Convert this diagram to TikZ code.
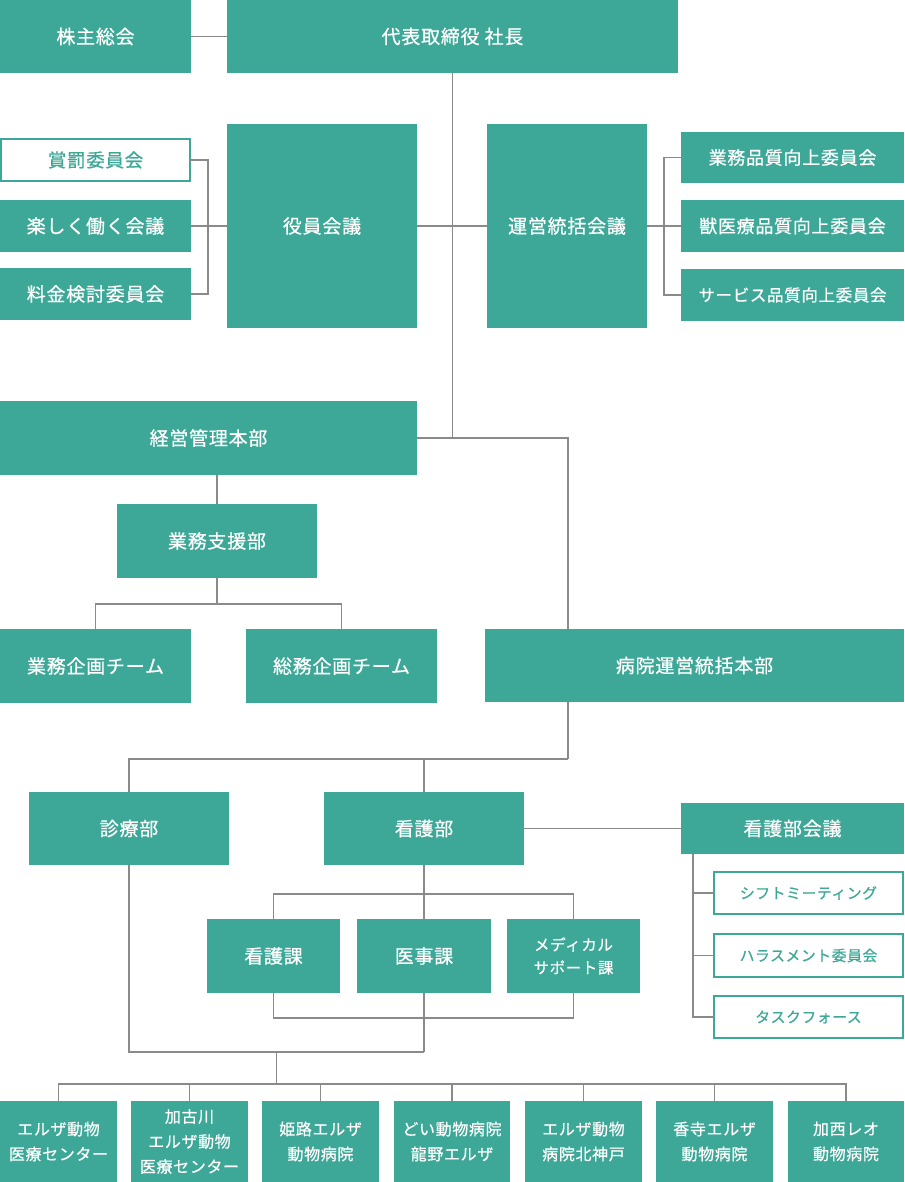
\documentclass[tikz,border=0pt]{standalone}
\usepackage{fontspec}
\usetikzlibrary{calc}
\setmainfont{Noto Sans CJK JP}[LetterSpace=4,FakeBold=0.6]
\definecolor{teal1}{HTML}{3DA897}
\definecolor{ln}{HTML}{8A8A8A}
\tikzset{
  box/.style={fill=teal1,text=white,inner sep=0pt,outer sep=0pt,anchor=north west,align=center,font=\fontsize{19}{24}\selectfont},
  obox/.style={fill=white,draw=teal1,line width=2pt,text=teal1,inner sep=0pt,outer sep=0pt,anchor=north west,align=center},
  con/.style={draw=ln,line width=1.2pt},
}
\newcommand{\bx}[7][box]{\node[#1,minimum width=#4pt-#2pt,minimum height=#5pt-#3pt] (#6) at (#2,#3) {#7};}
\begin{document}
\begin{tikzpicture}[x=1pt,y=-1pt]
\useasboundingbox (0,0) rectangle (904,1182);
\bx{0}{0}{191}{73}{kabu}{株主総会}
\bx{227}{0}{678}{73}{ceo}{代表取締役 社長}
\bx[obox,font=\fontsize{18.5}{22}\selectfont]{1}{139}{190}{181}{shobatsu}{賞罰委員会}
\bx{0}{200}{191}{252}{tanoshiku}{楽しく働く会議}
\bx{0}{268}{191}{320}{ryokin}{料金検討委員会}
\bx{227}{124}{417}{328}{yakuin}{役員会議}
\bx{487}{124}{647}{328}{unei}{運営統括会議}
\bx[box,font=\fontsize{18}{22}\selectfont]{681}{132}{904}{183}{gq}{業務品質向上委員会}
\bx[box,font=\fontsize{18}{22}\selectfont]{681}{200}{904}{252}{jq}{獣医療品質向上委員会}
\bx[box,font=\fontsize{16.5}{22}\selectfont]{681}{269}{904}{321}{sq}{サービス品質向上委員会}
\bx{0}{401}{417}{475}{keiei}{経営管理本部}
\bx{117}{504}{317}{578}{shien}{業務支援部}
\bx{0}{629}{191}{703}{kikaku}{業務企画チーム}
\bx{246}{629}{437}{703}{somu}{総務企画チーム}
\bx{485}{629}{904}{702}{byoin}{病院運営統括本部}
\bx{29}{792}{229}{865}{shinryo}{診療部}
\bx{324}{792}{524}{865}{kango}{看護部}
\bx{681}{803}{904}{854}{kk}{看護部会議}
\bx[obox,font=\fontsize{14.8}{20}\selectfont]{714}{872}{903}{914}{shift}{シフトミーティング}
\bx[obox,font=\fontsize{14.8}{20}\selectfont]{714}{934}{903}{977}{harass}{ハラスメント委員会}
\bx[obox,font=\fontsize{14.8}{20}\selectfont]{714}{996}{903}{1038}{task}{タスクフォース}
\bx{207}{919}{340}{993}{kangoka}{看護課}
\bx{357}{919}{491}{993}{iji}{医事課}
\bx[box,font=\fontsize{15.5}{23}\selectfont]{507}{919}{640}{993}{medical}{メディカル\\サポート課}
\bx[box,font=\fontsize{16}{25}\selectfont]{0}{1101}{117}{1182}{h1}{エルザ動物\\医療センター}
\bx[box,font=\fontsize{16}{25}\selectfont]{131}{1101}{248}{1182}{h2}{加古川\\エルザ動物\\医療センター}
\bx[box,font=\fontsize{16}{25}\selectfont]{262}{1101}{379}{1182}{h3}{姫路エルザ\\動物病院}
\bx[box,font=\fontsize{16}{25}\selectfont]{394}{1101}{510}{1182}{h4}{どい動物病院\\龍野エルザ}
\bx[box,font=\fontsize{16}{25}\selectfont]{525}{1101}{642}{1182}{h5}{エルザ動物\\病院北神戸}
\bx[box,font=\fontsize{16}{25}\selectfont]{656}{1101}{773}{1182}{h6}{香寺エルザ\\動物病院}
\bx[box,font=\fontsize{16}{25}\selectfont]{788}{1101}{904}{1182}{h7}{加西レオ\\動物病院}
% connectors
\draw[con] (kabu.east) -- (ceo.west);
\draw[con] (ceo.south) -- (ceo.south |- keiei.east);
\draw[con] (yakuin.east) -- (unei.west);
\draw[con] (tanoshiku.east) -- (tanoshiku.east -| yakuin.west);
\draw[con] (shobatsu.east) -- ++(18,0) |- (ryokin.east);
\draw[con] (unei.east) -- (jq.west);
\draw[con] (gq.west) -- ++(-17,0) |- (sq.west);
\draw[con] (keiei.east) -| ([xshift=83pt]byoin.north west);
\draw[con] (shien.north) -- (shien.north |- keiei.south);
\draw[con] (shien.south) -- ++(0,26) coordinate (s1);
\draw[con] (kikaku.north) |- (s1) -| (somu.north);
\draw[con] ([xshift=83pt]byoin.south west) -- ++(0,57) coordinate (b1);
\draw[con] (shinryo.north) |- (b1);
\draw[con] (kango.north) -- (kango.north |- b1);
\draw[con] (kango.east) -- (kango.east -| kk.west);
\draw[con] ([xshift=12pt]kk.south west) |- (task.west);
\draw[con] (shift.west) -- ++(-21,0);
\draw[con] (harass.west) -- ++(-21,0);
\draw[con] (kango.south) -- ++(0,29) coordinate (k1);
\draw[con] (kangoka.north) |- (k1) -| (medical.north);
\draw[con] (iji.north) -- (k1);
\draw[con] (kangoka.south) |- ([yshift=-25pt]iji.south) coordinate (k2) -| (medical.south);
\draw[con] (iji.south) -- ++(0,59) coordinate (k3);
\draw[con] (shinryo.south) |- (k3);
\coordinate (m1) at ($(shinryo.south |- k3)!0.5!(k3)$);
\draw[con] (m1) -- ++(0,32) coordinate (m2);
\draw[con] (h1.north) |- (m2) -| (h7.north);
\foreach \h in {h2,h3,h4,h5,h6} \draw[con] (\h.north) -- (\h.north |- m2);
\end{tikzpicture}
\end{document}
